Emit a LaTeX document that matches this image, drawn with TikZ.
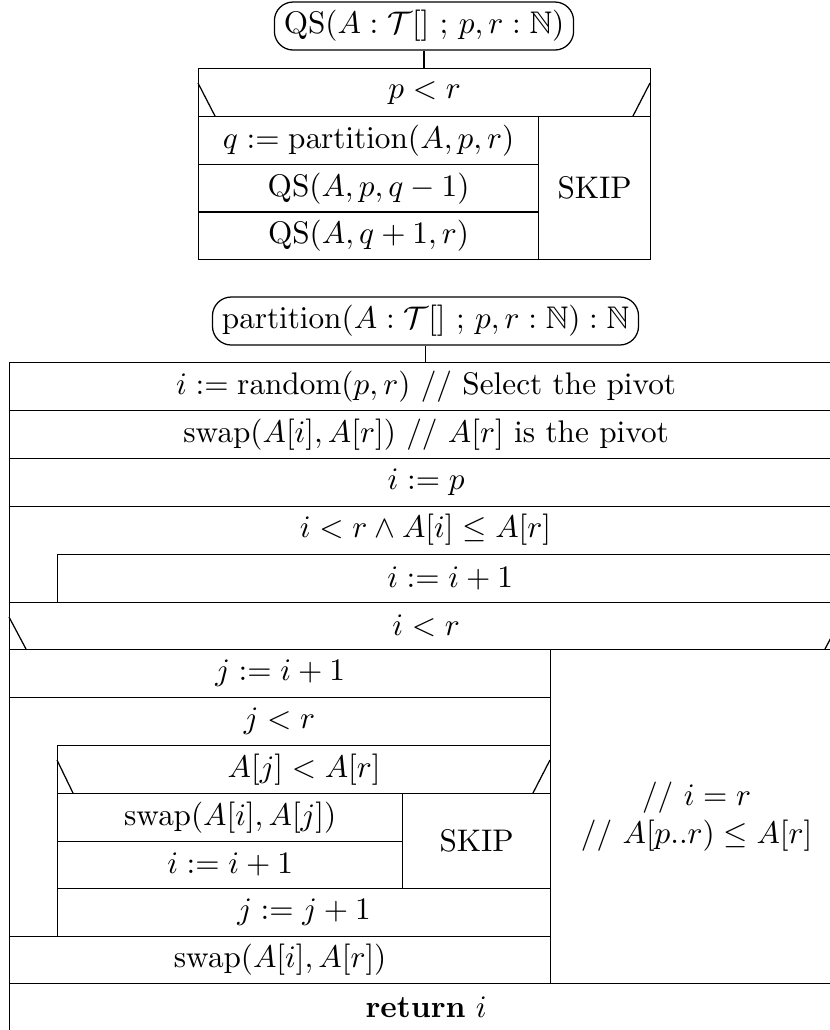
\documentclass[tikz,border=0pt]{standalone}
\usepackage{amsmath,amssymb}
\def\pxs{0.32pt}
\tikzset{
  cell/.style 2 args={draw, anchor=north west, inner sep=0pt, align=center,
    minimum width=#1*\pxs, minimum height=#2*\pxs},
  txt/.style={inner sep=0pt, align=center},
  hdr/.style={draw, rounded corners=6pt, inner xsep=3pt, inner ysep=0pt,
    minimum height=48*\pxs},
  link/.style={draw},
  diag/.style={draw}
}
\begin{document}
\begin{tikzpicture}[x=\pxs, y=-\pxs, line width=0.4pt]
\useasboundingbox (0,0) rectangle (830,1030);
\clip (0,0) rectangle (830,1030);

% ---------- QS ----------
\node[hdr] (qs) at (424,26) {$\mathrm{QS}(A : \mathcal{T}[]\ ;\, p, r : \mathbb{N})$};
\node[cell={452}{48}] (ifA) at (198,68) {$p < r$};
\draw[diag] (198,83) -- (215,116);
\draw[diag] (650,83) -- (633,116);
\node[cell={340}{47.7}] (qa) at (198,116) {$q := \mathrm{partition}(A, p, r)$};
\node[cell={340}{47.7}] (qb) at (198,163.7) {$\mathrm{QS}(A, p, q-1)$};
\node[cell={340}{47.6}] (qc) at (198,211.4) {$\mathrm{QS}(A, q+1, r)$};
\node[cell={112}{143}] (qskip) at (538,116) {SKIP};
\draw[link] (qs.south) -- (qs.south |- ifA.north);

% ---------- partition ----------
\node[hdr] (pt) at (425.5,321) {$\mathrm{partition}(A : \mathcal{T}[]\ ;\, p, r : \mathbb{N}) : \mathbb{N}$};
\node[cell={833}{48}] (r1) at (9,362) {$i := \mathrm{random}(p, r)$ // Select the pivot};
\node[cell={833}{48}] (r2) at (9,410) {$\mathrm{swap}(A[i], A[r])$ // $A[r]$ is the pivot};
\node[cell={833}{48}] (r3) at (9,458) {$i := p$};
\node[cell={833}{96}] (w1) at (9,506) {};
\node[txt] (w1t) at (425.5,530) {$i < r \wedge A[i] \le A[r]$};
\node[cell={785}{48}] (w1b) at (57,554) {$i := i+1$};
\node[cell={833}{47}] (ifB) at (9,602) {$i < r$};
\draw[diag] (9,617) -- (26,649);
\draw[diag] (842,617) -- (825,649);
\node[cell={541}{48}] (j1) at (9,649) {$j := i+1$};
\node[cell={541}{239}] (w2) at (9,697) {};
\node[txt] (w2t) at (279.5,721) {$j < r$};
\node[cell={493}{48}] (ifC) at (57,745) {$A[j] < A[r]$};
\draw[diag] (57,760) -- (73,793);
\draw[diag] (550,760) -- (533,793);
\node[cell={345}{47.5}] (s1) at (57,793) {$\mathrm{swap}(A[i], A[j])$};
\node[cell={345}{47.5}] (s2) at (57,840.5) {$i := i+1$};
\node[cell={148}{95}] (cskip) at (402,793) {SKIP};
\node[cell={493}{48}] (j2) at (57,888) {$j := j+1$};
\node[cell={541}{47}] (s3) at (9,936) {$\mathrm{swap}(A[i], A[r])$};
\node[cell={292}{334}] (rc) at (550,649) {// $i = r$\\// $A[p..r) \le A[r]$};
\node[cell={833}{48}] (ret) at (9,983) {\textbf{return} $i$};
\draw[link] (pt.south) -- (pt.south |- r1.north);
\end{tikzpicture}
\end{document}
